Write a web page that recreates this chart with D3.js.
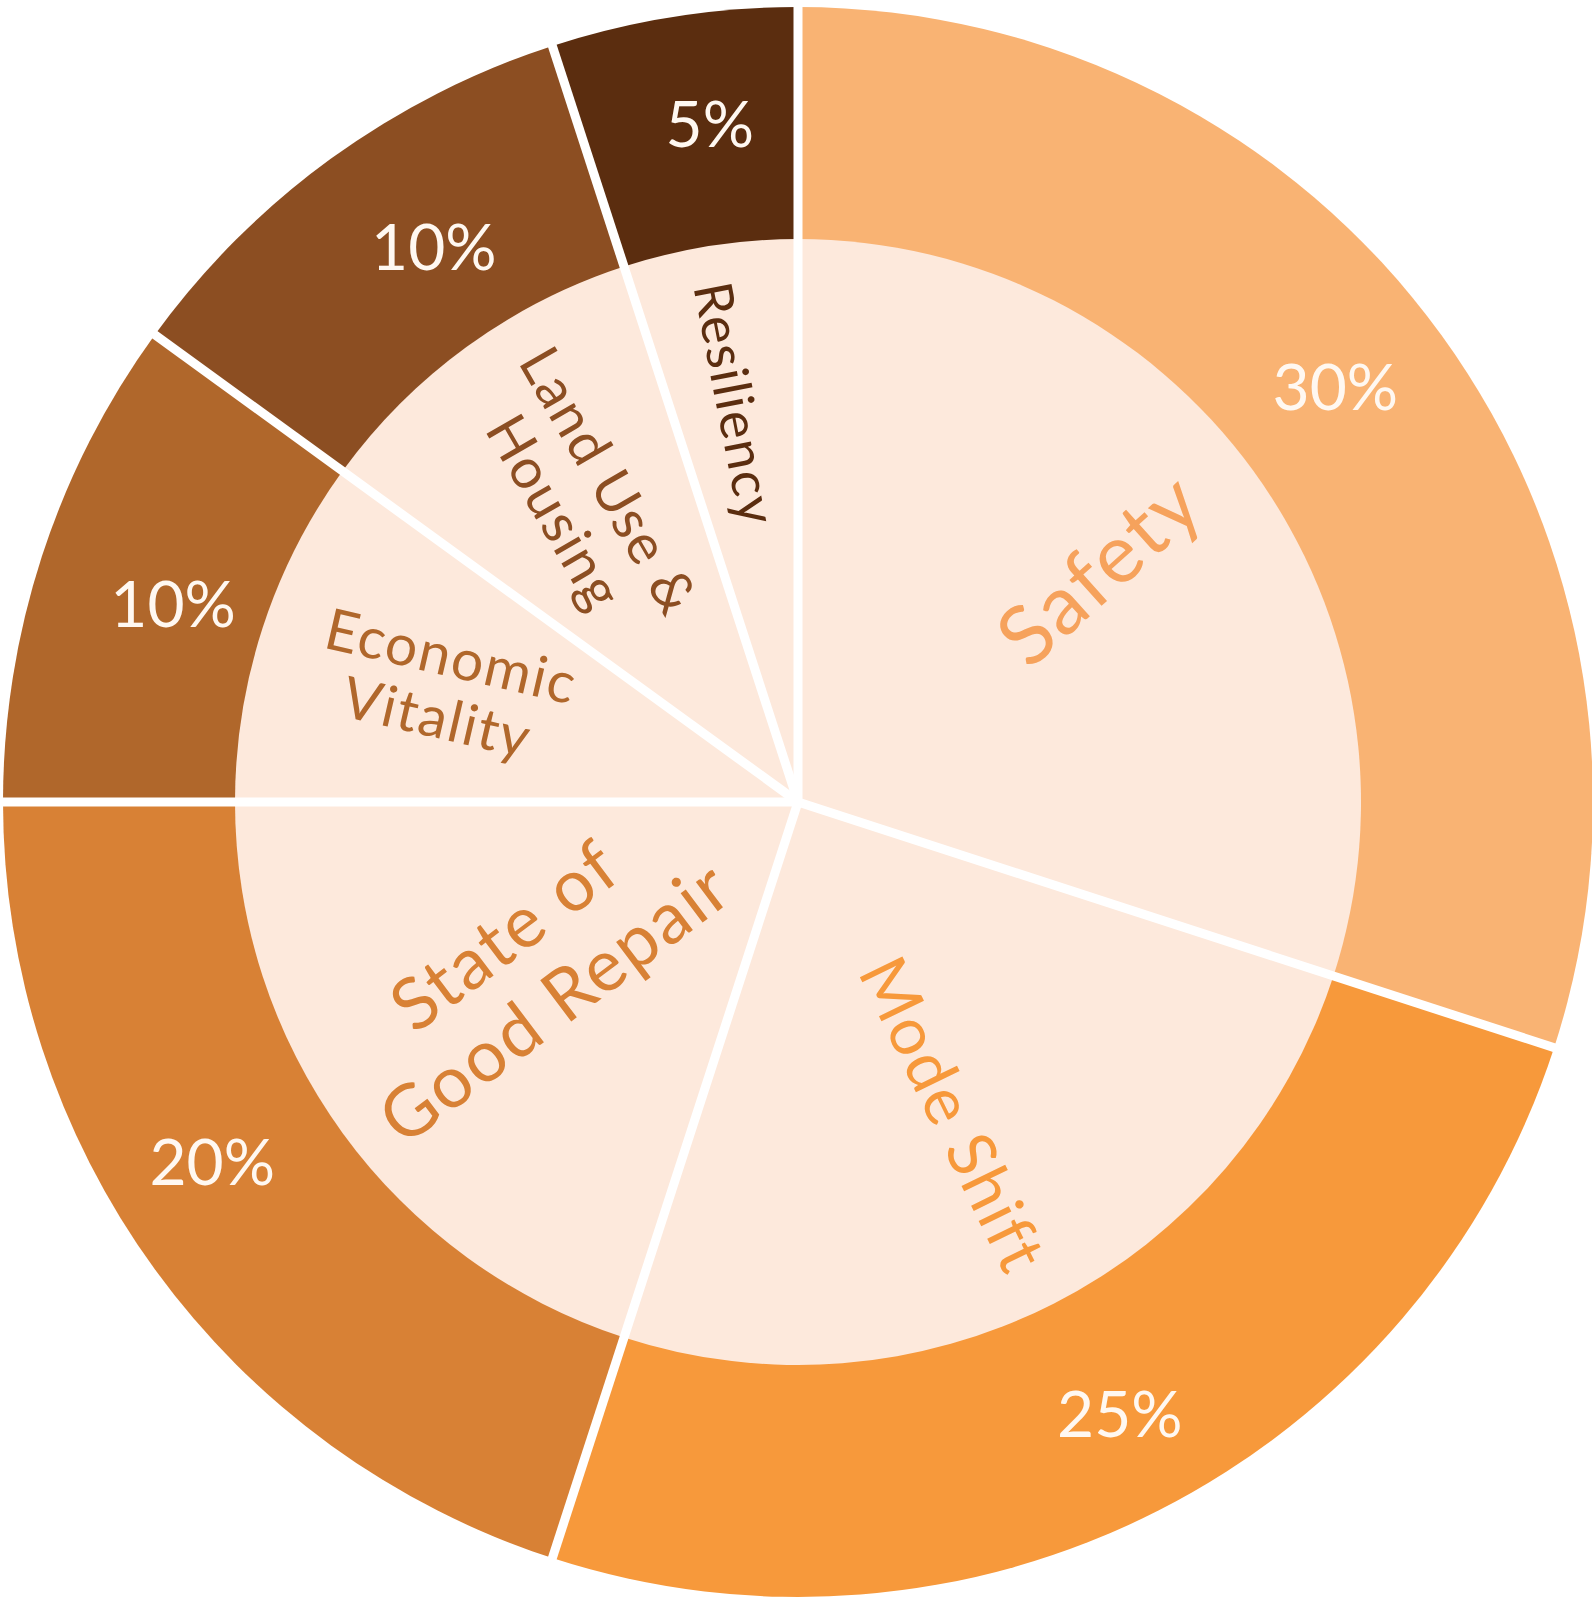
<!DOCTYPE html>
<html>
<head>
<meta charset="utf-8">
<script src="https://cdn.jsdelivr.net/npm/d3@7"></script>
<style>
  html, body { margin: 0; padding: 0; background: #ffffff; }
  svg { display: block; }
</style>
</head>
<body>
<svg id="chart" width="1592" height="1601"></svg>
<script>
// Goal areas and their share of the weighting
const categories = ["Safety", "Mode Shift", "State of Good Repair", "Economic Vitality", "Land Use & Housing", "Resiliency"];
const shares = [30, 25, 20, 10, 10, 5];
const labelLines = [["Safety"], ["Mode Shift"], ["State of", "Good Repair"], ["Economic", "Vitality"], ["Land Use &", "Housing"], ["Resiliency"]];
const shareLabels = ["30%", "25%", "20%", "10%", "10%", "5%"];

// Palette, one tone per goal area
const ringColors = ["#f9b373", "#f7993b", "#d88135", "#b0672b", "#8c4e22", "#5b2d0f"];
const textColors = ["#f6a25c", "#f7993b", "#d88135", "#b0672b", "#8c4e22", "#5b2d0f"];
const innerFill = "#fde9dc";

// Per-label layout: distance from the centre, angular nudge and tilt tweak (deg),
// font size and line spacing
const labelLayout = {
  "Safety":               { r: 381, nudge: -1.7, tilt: -6, size: 82, lh: 1.1 },
  "Mode Shift":           { r: 349, nudge: 0.7,  tilt: 1,  size: 66, lh: 1.1 },
  "State of Good Repair": { r: 316, nudge: 4.1,  tilt: -1, size: 72, lh: 1.16 },
  "Economic Vitality":    { r: 372, nudge: 0,    tilt: -5, size: 57, lh: 1.1 },
  "Land Use & Housing":   { r: 374, nudge: 0.7,  tilt: 6,  size: 56, lh: 1.12 },
  "Resiliency":           { r: 403, nudge: 0,    tilt: -2, size: 53, lh: 1.1 }
};

// Percentage placement: radius and angular nudge (deg) from the slice middle
const pctLayout = [
  { r: 680, nudge: -1.8 },
  { r: 690, nudge: -0.8 },
  { r: 687, nudge: 4.5 },
  { r: 656, nudge: -0.3 },
  { r: 665, nudge: 2.8 },
  { r: 685, nudge: 1.6 }
];

const cx = 798, cy = 802;
const outerR = 795, innerR = 563;

const svg = d3.select("#chart");
const g = svg.append("g").attr("transform", `translate(${cx},${cy})`);

const pie = d3.pie().sort(null).value(d => d);
const arcs = pie(shares);

const outerArc = d3.arc().innerRadius(0).outerRadius(outerR);
const innerArc = d3.arc().innerRadius(0).outerRadius(innerR);

// Coloured outer ring
g.selectAll("path.ring")
  .data(arcs)
  .join("path")
  .attr("class", "ring")
  .attr("d", outerArc)
  .attr("fill", (d, i) => ringColors[i]);

// Pale inner disc
g.selectAll("path.core")
  .data(arcs)
  .join("path")
  .attr("class", "core")
  .attr("d", innerArc)
  .attr("fill", innerFill);

// White separators between slices
g.selectAll("line.sep")
  .data(arcs)
  .join("line")
  .attr("class", "sep")
  .attr("x1", 0).attr("y1", 0)
  .attr("x2", d => Math.sin(d.startAngle) * (outerR + 10))
  .attr("y2", d => -Math.cos(d.startAngle) * (outerR + 10))
  .attr("stroke", "#ffffff")
  .attr("stroke-width", 9)
  .attr("stroke-linecap", "butt");

const font = "Lato, 'Open Sans', 'DejaVu Sans', sans-serif";
const rad = Math.PI / 180;

// Percentage labels on the ring
g.selectAll("text.pct")
  .data(arcs)
  .join("text")
  .attr("class", "pct")
  .each(function (d, i) {
    const a = (d.startAngle + d.endAngle) / 2 + pctLayout[i].nudge * rad;
    d3.select(this)
      .attr("x", Math.sin(a) * pctLayout[i].r)
      .attr("y", -Math.cos(a) * pctLayout[i].r);
  })
  .attr("text-anchor", "middle")
  .attr("dominant-baseline", "central")
  .attr("font-family", font)
  .attr("font-weight", 400)
  .attr("font-size", 64)
  .attr("fill", "#fff8f1")
  .text((d, i) => shareLabels[i]);

// Radial goal-area names inside the disc
arcs.forEach((d, i) => {
  const lay = labelLayout[categories[i]];
  const mid = (d.startAngle + d.endAngle) / 2;
  const deg = mid / rad;
  const rot = (deg < 180 ? deg - 90 : deg + 90) + lay.tilt;
  const a = mid + lay.nudge * rad;
  const x = Math.sin(a) * lay.r;
  const y = -Math.cos(a) * lay.r;
  const lines = labelLines[i];
  const t = g.append("text")
    .attr("transform", `translate(${x},${y}) rotate(${rot})`)
    .attr("text-anchor", "middle")
    .attr("font-family", font)
    .attr("font-weight", 400)
    .attr("font-size", lay.size)
    .attr("letter-spacing", "0.03em")
    .attr("fill", textColors[i]);
  const step = lay.size * lay.lh;
  lines.forEach((ln, k) => {
    t.append("tspan")
      .attr("x", 0)
      .attr("y", (k - (lines.length - 1) / 2) * step)
      .attr("dy", "0.35em")
      .text(ln);
  });
});
</script>
</body>
</html>
